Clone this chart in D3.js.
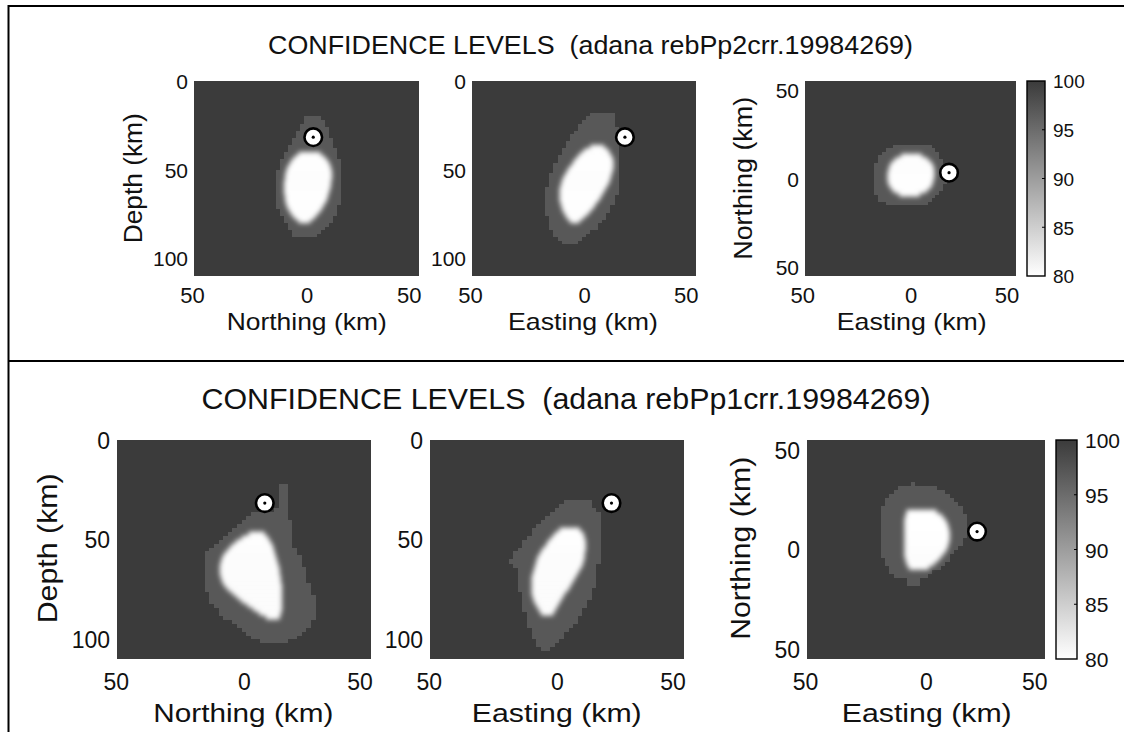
<!DOCTYPE html>
<html lang="en">
<head>
<meta charset="utf-8">
<script src="https://d3js.org/d3.v7.min.js"></script>
<style>
  body { margin: 0; background: #fff; }
  svg { display: block; font-family: "Liberation Sans", Arial, sans-serif; }
  .lbl { white-space: pre; fill: #111; }
</style>
</head>
<body>
<div id="chart"></div>
<script>
  // ---- values ----
  var titles = ["CONFIDENCE LEVELS  (adana rebPp2crr.19984269)",
                "CONFIDENCE LEVELS  (adana rebPp1crr.19984269)"];
  var colorTicks = [80, 85, 90, 95, 100];
  var kmTicks = [-50, 0, 50];
  var depthTicks = [0, 50, 100];
  var levelBack = 100, levelHalo = 97, levelCore = 80;

  // event location [northing, easting, depth] in km
  var eventPp2 = [3.3, 20.1, 31.7];
  var eventPp1 = [9.0, 23.6, 31.7];

  // confidence regions, one row per 2 km: [row start, left km, right km]
  // rebPp2 : northing / depth
  var pp2NorthHalo = [[20,-1,7],[22,-2,8.5],[24,-3,9],[26,-4,10],[28,-5,10.5],[30,-6,11],[32,-7,12],[34,-8,12.5],
    [36,-9,13],[38,-10,14],[40,-11,14.5],[42,-12,15],[44,-13,16],[46,-13.5,16.5],[48,-14,17],[50,-15,17],
    [52,-15,17],[54,-15.5,17],[56,-15.5,17],[58,-15.5,17],[60,-15.5,17],[62,-15.5,17],[64,-15.5,16.5],
    [66,-15,16],[68,-15,16],[70,-14.5,15.5],[72,-14,15],[74,-13,14],[76,-12,13],[78,-11,12],[80,-10,11],
    [82,-9,9],[84,-8,7],[86,-7,5]];
  var pp2NorthCore = [[40,-4,7],[42,-6,9],[44,-7.5,10.5],[46,-8.5,11.5],[48,-9.5,12],[50,-10,12.5],[52,-10.5,12.5],
    [54,-10.5,12.5],[56,-11,12],[58,-11,12],[60,-11,11.5],[62,-11,11],[64,-10.5,10.5],[66,-10.5,10],[68,-10,9],
    [70,-9.5,8],[72,-8.5,7],[74,-7.5,5.5],[76,-6,4],[78,-4,2]];
  // rebPp2 : easting / depth
  var pp2EastHalo = [[18,3,14],[20,1,14.5],[22,-1,15],[24,-2.5,15.5],[26,-4,16],[28,-5,16.5],[30,-6.5,16.5],
    [32,-7.5,17],[34,-8.5,17],[36,-9.5,17.5],[38,-10.5,17.5],[40,-11.5,17.5],[42,-12.5,17.5],[44,-13.5,17.5],
    [46,-14.5,17.5],[48,-15,17.5],[50,-16,17.5],[52,-16.5,17.5],[54,-17,17],[56,-17.5,17],[58,-18,16.5],
    [60,-18.5,16.5],[62,-19,16],[64,-19,15.5],[66,-19,15],[68,-19,14],[70,-19,13],[72,-19,12],[74,-18.5,11],
    [76,-18,10],[78,-18,9],[80,-17.5,7.5],[82,-17,6],[84,-16,3.5],[86,-15,1],[88,-13.5,-2],[90,-12,-4]];
  var pp2EastCore = [[36,3,10],[38,0,12],[40,-2,13],[42,-3.5,14],[44,-5,14.5],[46,-6,14.5],[48,-7.5,14.5],
    [50,-8.5,14],[52,-9.5,13.5],[54,-10.5,13],[56,-11,12.5],[58,-11.5,11.5],[60,-12,10.5],[62,-12,9.5],
    [64,-12,8.5],[66,-12,7.5],[68,-11.5,6],[70,-11,5],[72,-10.5,3.5],[74,-9.5,2],[76,-8.5,0],[78,-7,-2]];
  // rebPp2 : easting / northing (row start is the southern edge)
  var pp2MapHalo = [[17,-10,10],[15,-13,12.5],[13,-15,14],[11,-17,15.5],[9,-18,16.5],[7,-19,17.5],[5,-20,18],
    [3,-20,18.5],[1,-20,18.5],[-1,-20,18.5],[-3,-20,18],[-5,-20,17],[-7,-19.5,16],[-9,-19,14.5],[-11,-18,13],
    [-13,-16.5,11],[-15,-13,8]];
  var pp2MapCore = [[12,-5,6],[10,-8,9],[8,-10,11],[6,-11,12],[4,-11.5,12.5],[2,-12,12.5],[0,-12,12.5],
    [-2,-12,12],[-4,-11.5,11.5],[-6,-10.5,10.5],[-8,-9,8.5],[-10,-6,5]];

  // rebPp1 : northing / depth
  var pp1NorthHalo = [[22,15.5,18],[24,15.5,18],[26,15.5,18],[28,15.5,18.5],[30,15.5,18.5],[32,15.5,19],
    [34,12,19],[36,3,19.5],[38,0,19.5],[40,-2,20],[42,-4,20],[44,-6,20],[46,-8,20],[48,-10,20],[50,-12,20.5],
    [52,-14,21.5],[54,-16,22.5],[56,-17,23],[58,-17.5,24],[60,-17.5,25],[62,-17.5,25.5],[64,-17.5,26],
    [66,-17.5,26.5],[68,-17.5,27],[70,-17.5,27.5],[72,-17,28],[74,-17,28.5],[76,-16,29],[78,-15,30],
    [80,-14.5,31],[82,-13.5,31],[84,-12,31.5],[86,-10.5,31.5],[88,-8.5,31],[90,-6,29.5],[92,-4,28],
    [94,-1.5,26],[96,1,24.5],[98,3.5,22.5],[100,6,19]];
  var pp1NorthCore = [[46,2,9],[48,-1,10.5],[50,-3.5,11.5],[52,-5.5,12.5],[54,-7,13],[56,-8.5,13.5],[58,-9.5,14],
    [60,-10,14.5],[62,-10.5,15],[64,-10.5,15.5],[66,-10.5,15.5],[68,-10,16],[70,-9.5,16],[72,-8.5,16.5],
    [74,-7,16.5],[76,-5,16.5],[78,-3,16.5],[80,-1,16.5],[82,1.5,16.5],[84,4,16.5],[86,6.5,16],[88,9.5,15.5]];
  // rebPp1 : easting / depth
  var pp1EastHalo = [[30,2,14],[32,0,15.5],[34,-2,17],[36,-4,18],[38,-6,18.5],[40,-7.5,19],[42,-9,19],
    [44,-10.5,19],[46,-12,19],[48,-13,19],[50,-14.5,19],[52,-15.5,19],[54,-17,19],[56,-18.5,18.5],[58,-20,18],
    [60,-20.5,18],[62,-18.5,17.5],[64,-18,17.5],[66,-17.5,17],[68,-17,17],[70,-17,16.5],[72,-16.5,16],
    [74,-16.5,15.5],[76,-16,15],[78,-16,14],[80,-15.5,13.5],[82,-15,12.5],[84,-14.5,11.5],[86,-14,10.5],
    [88,-13.5,9],[90,-13,8],[92,-12.5,6.5],[94,-12,5],[96,-11.5,3.5],[98,-11,2],[100,-10,0.5],[102,-9,-1.5],
    [104,-7.5,-3.5]];
  var pp1EastCore = [[44,1,10],[46,-1,11.5],[48,-2.5,12],[50,-4,12.5],[52,-5,12.5],[54,-6.5,12.5],[56,-7.5,12],
    [58,-8.5,12],[60,-9,11.5],[62,-9.5,11],[64,-10,10],[66,-10.5,9],[68,-11,8],[70,-11,7],[72,-11,6],
    [74,-11,5],[76,-11,3.5],[78,-10.5,2.5],[80,-10,1.5],[82,-9,0.5],[84,-8,-0.5],[86,-7,-1.5]];
  // rebPp1 : easting / northing
  var pp1MapHalo = [[32,-7.5,-5],[30,-14,5],[28,-16,9],[26,-17.5,11],[24,-19,13],[22,-20,15],[20,-20.5,16.5],
    [18,-20.5,17.5],[16,-20.5,18.5],[14,-20.5,19],[12,-20.5,19],[10,-20.5,19],[8,-20.5,19],[6,-20.5,18.5],
    [4,-20.5,17.5],[2,-20.5,16],[0,-20.5,14.5],[-2,-20.5,13],[-4,-20.5,11.5],[-6,-19.5,10],[-8,-18.5,8],
    [-10,-17.5,6],[-12,-16.5,3.5],[-14,-15.5,1],[-16,-9,-3],[-18,-8.5,-3.5]];
  var pp1MapCore = [[18,-9,5],[16,-9.5,7.5],[14,-10,9],[12,-10,10],[10,-10,10.5],[8,-10,11],[6,-10,11],
    [4,-10,11],[2,-10,10.5],[0,-10,10],[-2,-10,9],[-4,-10,7.5],[-6,-9.5,6],[-8,-9,4],[-10,-8,1.5]];

  // ---- drawing ----
  var svg = d3.select("#chart").append("svg")
      .attr("width", 1124)
      .attr("height", 732);

  var color = d3.scaleLinear().domain([80, 100]).range(["#ffffff", "#3b3b3b"]);

  // the grid is 2 km; halo edges fall on cell borders
  function cell(v) { return -55 + 2 * Math.round((v + 55) / 2); }

  var defs = svg.append("defs");
  defs.append("filter").attr("id", "blurCore")
      .attr("x", "-50%").attr("y", "-50%").attr("width", "200%").attr("height", "200%")
    .append("feGaussianBlur").attr("stdDeviation", 2.6);
  defs.append("filter").attr("id", "blurHalo")
      .attr("x", "-20%").attr("y", "-20%").attr("width", "140%").attr("height", "140%")
    .append("feGaussianBlur").attr("stdDeviation", 0.7);
  var grad = defs.append("linearGradient").attr("id", "cbGrad")
      .attr("x1", 0).attr("y1", 1).attr("x2", 0).attr("y2", 0);
  grad.selectAll("stop").data(colorTicks).join("stop")
      .attr("offset", function(d) { return (d - 80) / 20; })
      .attr("stop-color", function(d) { return color(d); });

  // frame
  svg.append("path")
      .attr("d", "M8.5,732V6H1124M8.5,361H1124")
      .attr("fill", "none").attr("stroke", "#000").attr("stroke-width", 2);

  function drawPlot(box, halo, core, ev, kind, fs) {
    var isMap = kind === "map";
    var x = d3.scaleLinear().domain([-55, 55]).range([box.x, box.x + box.w]);
    var y = isMap ? d3.scaleLinear().domain([55, -55]).range([box.y, box.y + box.h])
                  : d3.scaleLinear().domain([0, 110]).range([box.y, box.y + box.h]);
    var g = svg.append("g");

    g.append("rect")
        .attr("x", box.x).attr("y", box.y).attr("width", box.w).attr("height", box.h)
        .attr("fill", color(levelBack));

    function rowY(d) { return isMap ? y(d[0] + 2) : y(d[0]); }
    function rowH(d) { return Math.abs(y(d[0] + 2) - y(d[0])) + 0.4; }

    g.append("g").attr("filter", "url(#blurHalo)")
      .selectAll("rect").data(halo).join("rect")
        .attr("x", function(d) { return x(cell(d[1])); })
        .attr("width", function(d) { return Math.max(x(cell(d[2])) - x(cell(d[1])), x(2) - x(0)); })
        .attr("y", rowY).attr("height", rowH)
        .attr("shape-rendering", "crispEdges")
        .attr("fill", color(levelHalo));

    g.append("g").attr("filter", "url(#blurCore)")
      .selectAll("rect").data(core).join("rect")
        .attr("x", function(d) { return x(d[1]); })
        .attr("width", function(d) { return x(d[2]) - x(d[1]); })
        .attr("y", rowY).attr("height", rowH)
        .attr("fill", color(levelCore));

    // event
    var ex = kind === "north" ? ev[0] : ev[1];
    var ey = isMap ? ev[0] : ev[2];
    g.append("circle").attr("cx", x(ex)).attr("cy", y(ey)).attr("r", 8.8)
        .attr("fill", "#fff").attr("stroke", "#000").attr("stroke-width", 2.6);
    g.append("circle").attr("cx", x(ex)).attr("cy", y(ey)).attr("r", 1.6).attr("fill", "#000");

    // axes
    var gx = g.append("g")
        .attr("transform", "translate(0," + (box.y + box.h) + ")")
        .call(d3.axisBottom(x).tickValues(kmTicks).tickSize(0)
            .tickFormat(function(d) { return Math.abs(d); }));
    gx.select(".domain").remove();
    gx.selectAll("text")
        .attr("y", fs.xTickY).attr("dy", 0)
        .attr("font-size", fs.tick).attr("font-family", null).attr("fill", "#111")
        .attr("text-anchor", function(d, i) { return i === 0 ? "end" : "middle"; });

    var gy = g.append("g")
        .attr("transform", "translate(" + box.x + ",0)")
        .call(d3.axisLeft(y).tickValues(isMap ? kmTicks : depthTicks).tickSize(0)
            .tickFormat(function(d) { return Math.abs(d); }));
    gy.select(".domain").remove();
    gy.selectAll("text")
        .attr("x", -fs.yTickGap).attr("dy", "0.36em")
        .attr("font-size", fs.yTick).attr("font-family", null).attr("fill", "#111");
  }

  function drawColorbar(box, fs) {
    var c = d3.scaleLinear().domain([80, 100]).range([box.y + box.h, box.y]);
    var g = svg.append("g");
    g.append("rect")
        .attr("x", box.x).attr("y", box.y).attr("width", box.w).attr("height", box.h)
        .attr("fill", "url(#cbGrad)").attr("stroke", "#000").attr("stroke-width", 1.4);
    g.selectAll("line").data(colorTicks.slice(1, -1)).join("line")
        .attr("x1", box.x + box.w - 3).attr("x2", box.x + box.w)
        .attr("y1", function(d) { return c(d); }).attr("y2", function(d) { return c(d); })
        .attr("stroke", "#000").attr("stroke-width", 1);
    var ga = g.append("g")
        .attr("transform", "translate(" + (box.x + box.w) + ",0)")
        .call(d3.axisRight(c).tickValues(colorTicks).tickSize(0));
    ga.select(".domain").remove();
    ga.selectAll("text")
        .attr("x", fs.cbGap).attr("dy", "0.36em")
        .attr("font-size", fs.cb).attr("font-family", null).attr("fill", "#111");
  }

  function label(txt, x, y, size, len, rotate) {
    svg.append("text")
        .attr("class", "lbl")
        .attr("transform", "translate(" + x + "," + y + ")" + (rotate ? " rotate(-90)" : ""))
        .attr("text-anchor", "middle")
        .attr("font-size", size)
        .attr("textLength", len).attr("lengthAdjust", "spacingAndGlyphs")
        .text(txt);
  }

  // top panel: rebPp2
  var fsTop = { tick: 22, yTick: 21, xTickY: 27, yTickGap: 6, cb: 19, cbGap: 8 };
  drawPlot({ x: 194, y: 81, w: 225, h: 195 }, pp2NorthHalo, pp2NorthCore, eventPp2, "north", fsTop);
  drawPlot({ x: 472, y: 81, w: 224, h: 195 }, pp2EastHalo, pp2EastCore, eventPp2, "east", fsTop);
  drawPlot({ x: 805, y: 81, w: 211, h: 195 }, pp2MapHalo, pp2MapCore, eventPp2, "map", fsTop);
  drawColorbar({ x: 1027, y: 81, w: 18, h: 195 }, fsTop);
  label(titles[0], 590.5, 54, 25, 645);
  label("Northing (km)", 306.7, 330, 24, 160);
  label("Easting (km)", 583, 330, 24, 150);
  label("Easting (km)", 911.7, 330, 24, 150);
  label("Depth (km)", 142, 178.3, 25, 130, true);
  label("Northing (km)", 752, 178.3, 25, 163, true);

  // bottom panel: rebPp1
  var fsBot = { tick: 23, yTick: 23, xTickY: 31, yTickGap: 7, cb: 21, cbGap: 8 };
  drawPlot({ x: 117, y: 440, w: 254, h: 219 }, pp1NorthHalo, pp1NorthCore, eventPp1, "north", fsBot);
  drawPlot({ x: 430, y: 440, w: 254, h: 219 }, pp1EastHalo, pp1EastCore, eventPp1, "east", fsBot);
  drawPlot({ x: 807, y: 440, w: 238, h: 219 }, pp1MapHalo, pp1MapCore, eventPp1, "map", fsBot);
  drawColorbar({ x: 1056, y: 440, w: 21, h: 219 }, fsBot);
  label(titles[1], 566, 409, 29, 729);
  label("Northing (km)", 243.3, 722, 26, 180);
  label("Easting (km)", 556.7, 722, 26, 170);
  label("Easting (km)", 926.7, 722, 26, 170);
  label("Depth (km)", 57, 548.3, 28, 150, true);
  label("Northing (km)", 750, 548.3, 28, 183, true);
</script>
</body>
</html>
